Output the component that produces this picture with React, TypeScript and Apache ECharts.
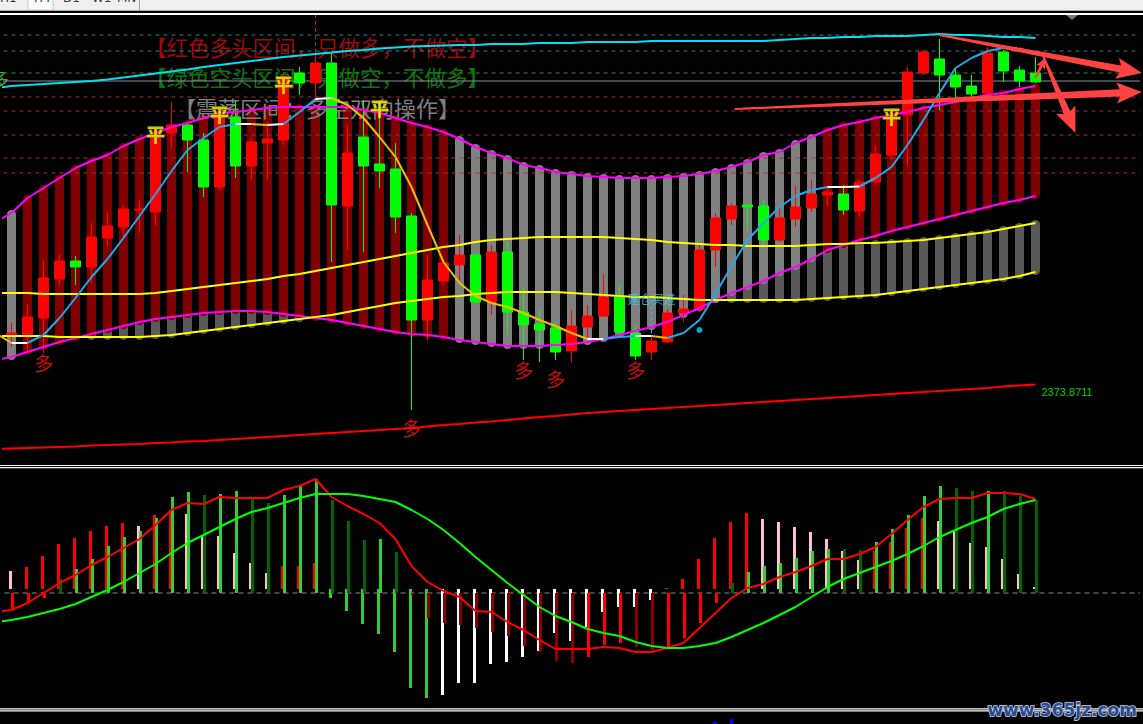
import React, { useEffect, useRef } from 'react';
import * as echarts from 'echarts';

// ---------- data (prices) ----------
// Every per-bar array starts with the bar cut by the left edge (bar number -1);
// the first fully drawn bar is bar number 0.
const categories = Array.from({ length: 71 }, (_, i) => 'K' + i);

const opens = [2381, 2393.5, 2393.5, 2402, 2421.5, 2430.5, 2427.5, 2442, 2447.5, 2456, 2455, 2494.5, 2498.5, 2491, 2467.5, 2502.5, 2478, 2489.5, 2491, 2524.5, 2519.5, 2529.5, 2458, 2492.5, 2479, 2476.5, 2453, 2401, 2420.5, 2428.5, 2433.5, 2410, 2435, 2405, 2399, 2397, 2385.5, 2397.5, 2403, 2412.5, 2394.5, 2385, 2390, 2404.5, 2406.5, 2436, 2451.5, 2458.5, 2458, 2441, 2451.5, 2457, 2463.5, 2464, 2455.5, 2470, 2483.5, 2503.5, 2524.5, 2531.5, 2523.5, 2518, 2514.5, 2535, 2526, 2524.5];
const closes = [2394.5, 2394.5, 2402.5, 2422, 2430.5, 2427.5, 2442.5, 2448, 2456.5, 2456.5, 2492, 2498.5, 2491, 2467.5, 2503.5, 2478, 2490, 2491.5, 2522.5, 2519.5, 2529.5, 2458.5, 2484.5, 2478, 2475.5, 2452.5, 2401, 2421, 2429.5, 2433.5, 2410, 2435, 2405, 2398.5, 2396, 2385, 2398, 2403, 2412.5, 2395, 2383, 2390.5, 2404.5, 2406.5, 2436, 2452, 2458, 2457.5, 2441, 2452, 2457.5, 2464, 2465, 2456, 2470, 2484, 2503.5, 2525, 2535, 2523.5, 2517.5, 2514, 2534.5, 2525.5, 2520.5, 2520];
const lows = [2380, 2387.5, 2384.5, 2384.5, 2418.5, 2418.5, 2419.5, 2438, 2442, 2444.5, 2448, 2487, 2475, 2462.5, 2466, 2472, 2471, 2471, 2488.5, 2513.5, 2511, 2430, 2436, 2435, 2467, 2444.5, 2356, 2391, 2418.5, 2421, 2408.5, 2403.5, 2393.5, 2381, 2380, 2381, 2380, 2392.5, 2402.5, 2393.5, 2381, 2381, 2389.5, 2400, 2405, 2427.5, 2448.5, 2445.5, 2438.5, 2440, 2447.5, 2455, 2458, 2453.5, 2452.5, 2468.5, 2481, 2478.5, 2523.5, 2506, 2512, 2512.5, 2513.5, 2520, 2517.5, 2519.5];
const highs = [2396, 2399.5, 2409, 2431, 2434, 2433, 2449.5, 2455, 2458.5, 2461, 2494.5, 2510, 2499, 2494.5, 2505, 2511, 2492, 2500, 2525, 2527.5, 2533.5, 2534.5, 2498.5, 2511, 2511, 2489.5, 2454.5, 2433.5, 2430, 2443.5, 2434.5, 2438.5, 2440, 2417.5, 2406, 2400, 2406, 2408.5, 2424, 2418.5, 2398.5, 2393.5, 2406.5, 2413.5, 2438.5, 2454.5, 2459.5, 2458.5, 2461, 2458, 2468, 2471, 2468, 2468.5, 2471, 2488, 2506, 2527.5, 2536, 2541.5, 2527, 2523.5, 2537.5, 2536, 2528, 2532.5];

// channel A (magenta) and channel B (yellow)
const bandAUpper = [2450, 2454.5, 2462, 2467, 2472, 2477, 2480.5, 2483.5, 2488, 2491.5, 2494.5, 2497.5, 2499.5, 2502, 2504.5, 2505, 2506, 2507, 2507.5, 2507.5, 2507.5, 2507.5, 2507.5, 2506, 2504.5, 2502, 2499.5, 2497.5, 2495, 2491.5, 2487.5, 2484.5, 2482, 2478.5, 2477, 2475, 2474, 2473, 2472.5, 2472, 2472, 2472, 2472.5, 2473, 2474, 2475.5, 2477.5, 2480, 2483.5, 2485, 2489.5, 2492.5, 2496, 2498.5, 2500, 2502, 2503.5, 2505, 2507, 2508.5, 2510, 2512, 2513.5, 2514.5, 2516.5, 2518];
const bandALower = [2381, 2382.5, 2385, 2387.5, 2390, 2392, 2394, 2396, 2398, 2400, 2401.5, 2402.5, 2403.5, 2404.5, 2405, 2405.5, 2405.5, 2405, 2404, 2403, 2402, 2401, 2399.5, 2398, 2396.5, 2395, 2394, 2393.5, 2392.5, 2391, 2390, 2389, 2388, 2388, 2388, 2388.5, 2389, 2390, 2391.5, 2393.5, 2395.5, 2397.5, 2400, 2403.5, 2407, 2411, 2414.5, 2417.5, 2420.5, 2424.5, 2427.5, 2431.5, 2436, 2438.5, 2441, 2443, 2445.5, 2447.5, 2449.5, 2451.5, 2453.5, 2455.5, 2457.5, 2459.5, 2461, 2463];
const bandBUpper = [2414.5, 2414.5, 2414.5, 2414, 2414, 2414, 2414, 2414, 2414, 2414, 2414.5, 2415.5, 2416.5, 2417.5, 2418.5, 2419.5, 2420.5, 2421.5, 2423, 2424, 2425.5, 2427, 2428.5, 2430, 2431.5, 2433, 2434.5, 2436, 2437.5, 2438.5, 2440, 2441, 2441.5, 2442, 2442.5, 2442.5, 2442.5, 2442.5, 2442.5, 2442, 2441.5, 2441, 2440, 2439.5, 2439, 2438.5, 2438.5, 2438, 2438, 2438, 2438, 2438.5, 2439, 2439, 2439.5, 2439.5, 2440, 2440.5, 2441, 2442, 2443, 2444, 2445, 2446.5, 2448, 2449.5];
const bandBLower = [2393, 2393, 2393, 2393, 2392.5, 2392.5, 2392.5, 2392.5, 2392.5, 2392.5, 2393, 2393.5, 2394.5, 2395.5, 2396.5, 2397.5, 2398.5, 2399.5, 2400.5, 2401.5, 2402.5, 2403.5, 2405, 2406.5, 2408, 2409.5, 2410.5, 2411.5, 2412.5, 2413, 2414, 2414.5, 2415, 2415, 2415, 2415, 2414.5, 2414, 2413.5, 2413, 2412.5, 2412.5, 2412, 2411.5, 2411, 2411, 2411, 2411, 2411, 2411, 2411, 2411.5, 2412, 2412.5, 2413, 2413.5, 2414.5, 2415.5, 2416.5, 2417.5, 2418.5, 2419.5, 2420.5, 2421.5, 2423, 2425];
// bar numbers where channel A is shown dark red (bull regime); others grey
const bullRanges = [[1, 27], [51, 64]];

// fast MA and its segment trend (u rising, w flat, d falling)
const fastMA = [2394.5, 2389.5, 2389.5, 2393.5, 2402, 2412, 2422.5, 2431.5, 2442, 2453, 2464, 2475.5, 2486, 2492, 2497.5, 2499, 2499, 2498.5, 2499, 2505, 2511.5, 2512, 2508.5, 2502, 2492.5, 2482.5, 2467.5, 2448.5, 2430, 2419.5, 2413, 2409.5, 2407.5, 2404.5, 2401, 2398, 2394.5, 2391.5, 2391.5, 2392.5, 2393, 2393, 2392, 2394.5, 2401, 2414, 2428, 2441, 2449.5, 2457.5, 2463, 2466, 2467.5, 2467.5, 2467.75, 2472, 2477.5, 2488.5, 2501, 2514.5, 2527, 2532, 2535.5, 2537, 2536.75, 2534];
const maTrend = 'd' + 'w' + 'uuuuuuuuuuuuu' + 'w' + 'd' + 'w' + 'uu' + 'w' + 'dddddddddddddddd' + 'w' + 'uu' + 'w' + 'd' + 'uuuuuuuuuu' + 'ww' + 'uuuuuuuuu' + 'w' + 'd';

const topCyanLine = [2517, 2518, 2518.5, 2519, 2519.5, 2520, 2520.5, 2521.25, 2522.25, 2523.25, 2524.25, 2525.25, 2526.25, 2527.5, 2528.5, 2529.5, 2530.5, 2531.5, 2532.5, 2533.25, 2534, 2534.75, 2535.5, 2536, 2536.75, 2537.25, 2537.75, 2538, 2538.25, 2538.5, 2538.5, 2539, 2539, 2539, 2539.5, 2539.5, 2539.5, 2540, 2540, 2540, 2540, 2540.5, 2540.5, 2540.5, 2540.5, 2540.5, 2540.5, 2540.5, 2540.5, 2541, 2541.5, 2542, 2542, 2542.5, 2542.5, 2543, 2543, 2543, 2543.5, 2544, 2543.5, 2543.5, 2543, 2542.5, 2542.5, 2542];
const slowRedMA = [2336.5, 2336.75, 2337, 2337.25, 2337.5, 2337.75, 2338.25, 2338.5, 2338.75, 2339, 2339.5, 2339.75, 2340.25, 2340.5, 2341, 2341.5, 2342, 2342.5, 2343, 2343.5, 2344, 2344.5, 2345, 2345.5, 2346, 2346.5, 2347, 2347.75, 2348.5, 2349, 2349.75, 2350.25, 2351, 2351.75, 2352.5, 2353, 2353.75, 2354.5, 2355, 2355.5, 2356, 2356.5, 2357, 2357.5, 2358, 2358.5, 2359, 2359.5, 2360, 2360.5, 2361, 2361.5, 2362, 2362.5, 2363, 2363.5, 2364, 2364.5, 2365, 2365.5, 2366, 2366.5, 2367, 2367.75, 2368.25, 2368.75];
const slowRedLabel = '2373.8711';

// horizontal levels
const levelPrices = [2543.5, 2535.5, 2524.5, 2520.5, 2512.5, 2505.5, 2493.5, 2482, 2474.5];
const levelKinds = ['teal', 'teal', 'green', 'gray', 'red', 'red', 'red', 'red', 'red'];

// signals (bar numbers)
const pingIdx = [9, 13, 17, 23, 55];
const pingPrice = [2494.5, 2504.5, 2519.5, 2507.5, 2503.5];
const duoIdx = [2, 25, 32, 34, 39];
const duoPrice = [2380, 2347.5, 2376.5, 2372, 2376.5];
const buyIdx = 40;
const buyPrice = 2412;
const buyLine = [2411, 2381];
const cursorIdx = 19;
const cursorLine = [2554, 2530];
const dotIdx = 43;
const dotPrice = 2396;

// hand drawn arrows (bar number, price)
const arrowFrom = [[58.0, 2543.5], [45.2, 2506.5], [64.5, 2532.5], [64.0, 2522]];
const arrowTo = [[70.65, 2524.5], [70.65, 2515], [66.5, 2494.5], [64.6, 2532]];

// lower panel
const hist1 = [1.2, 1.8, 2.2, 3.3, 4.5, 5.1, 5.8, 6.3, 6.6, 6.3, 7.4, 7.9, 7.5, 5.4, 5.3, 3.6, 2.6, 1.6, 2.3, 2.3, 2.6, -0.9, -2.2, -3.5, -4.5, -6.3, -9.9, -10.9, -10.6, -9.4, -9.4, -7.5, -7.3, -6.8, -6.2, -4.4, -5.2, -3.8, -2.3, -1.8, -1.8, -1.1, 0.1, 1.0, 3.0, 5.1, 6.7, 7.6, 7.0, 6.7, 6.2, 5.7, 5.0, 3.8, 2.9, 3.8, 4.7, 6.1, 7.1, 6.8, 5.9, 4.6, 4.2, 3.0, 1.5, 0.2];
const hist1Color = 'p' + 'p' + 'rrrrrrr' + 'p' + 'rr' + 'pppppp' + 'rrr' + 'ggggggg' + 'wwwwwwwwwwwwww' + 'rrrrrr' + 'ppppppp' + 'rrrr' + 'ppppppp';
const hist2 = [-2.0, -1.6, -1.0, -0.5, 1.4, 2.4, 3.4, 4.7, 5.6, 6.2, 7.5, 9.6, 10.1, 9.8, 9.9, 10.2, 9.4, 9.0, 9.8, 10.8, 11.4, 9.3, 7.2, 5.3, 5.4, 4.1, -0.2, -2.5, -3.0, -3.2, -3.5, -3.9, -4.3, -5.3, -5.9, -6.8, -7.0, -6.4, -5.2, -5.0, -5.4, -5.7, -5.4, -4.5, -3.0, -1.0, 1.0, 2.1, 2.7, 3.0, 3.5, 4.2, 4.4, 4.4, 4.3, 5.1, 6.4, 7.8, 9.7, 10.7, 10.5, 10.2, 10.2, 10.2, 9.7, 9.3];
const hist2Color = 'R' + 'RRR' + 'D' + 'GGGGGGGG' + 'D' + 'GG' + 'DD' + 'GGG' + 'DDD' + 'G' + 'D' + 'KKKKKKKKKKK' + 'RRR' + 'KK' + 'RRRR' + 'D' + 'GGGGGG' + 'DD' + 'GGGGG' + 'DD' + 'G' + 'DDD';
const difLine = [-1.9, -1.7, -1.0, 0.0, 1.0, 1.8, 2.8, 3.6, 4.5, 5.4, 6.8, 8.3, 9.0, 8.9, 9.6, 9.5, 9.5, 9.5, 10.3, 10.7, 11.4, 9.6, 8.7, 7.9, 7.0, 5.4, 2.7, 1.1, 0.2, -0.4, -1.8, -1.9, -2.9, -3.7, -4.7, -5.6, -5.6, -5.6, -5.4, -5.5, -5.9, -5.9, -5.5, -5.0, -3.5, -2.0, -0.5, 0.5, 0.9, 1.6, 2.1, 2.7, 3.4, 3.4, 3.9, 4.6, 5.9, 7.3, 8.6, 9.4, 9.5, 9.5, 10.0, 10.0, 9.9, 9.4];
const deaLine = [-2.9, -2.7, -2.4, -2.0, -1.6, -1.1, -0.4, 0.3, 1.1, 2.0, 2.9, 4.0, 5.0, 5.8, 6.6, 7.4, 8.1, 8.5, 9.0, 9.5, 9.9, 9.9, 9.9, 9.7, 9.4, 9.1, 8.3, 7.4, 6.3, 5.0, 3.6, 2.3, 1.0, -0.2, -1.4, -2.3, -2.9, -3.6, -4.0, -4.3, -4.9, -5.3, -5.5, -5.5, -5.3, -5.0, -4.4, -3.7, -3.0, -2.2, -1.4, -0.4, 0.6, 1.4, 2.0, 2.6, 3.2, 3.9, 4.7, 5.6, 6.3, 7.0, 7.6, 8.4, 8.9, 9.3];

// ---------- styles ----------
const CJK = '"Noto Sans CJK SC", "Noto Sans", sans-serif';
const LEVEL_STYLE: Record<string, any> = {
  teal: { color: '#188c8c', type: [4, 4], width: 1 },
  green: { color: '#2d8f2d', type: [4, 4], width: 1 },
  gray: { color: '#8a929c', type: 'solid', width: 1 },
  red: { color: '#a03232', type: [4, 4], width: 1 },
};
const H1_COLORS: Record<string, string> = { r: '#ff0000', p: '#ffc0cb', g: '#32cd32', w: '#ffffff' };
const H2_COLORS: Record<string, string> = { R: '#ff0000', K: '#8b0000', G: '#32cd32', D: '#006400' };
const TREND_COLORS = ['#1eaaf0', '#ffffff', '#f0c000'];
const X_FROM = -1; // bar number left of the canvas edge
const X_TO = 71;   // bar number right of the canvas edge

const inBull = (i: number) => bullRanges.some(([a, b]) => i >= a && i <= b);
const xy = (arr: number[]) => arr.map((v, k) => [k - 1, v]);
const shown = (arr: any[]) => arr.slice(1);

function buildOption() {
  const candleData = shown(opens).map((o: number, i: number) => [o, closes[i + 1], lows[i + 1], highs[i + 1]]);
  const bandBData = shown(bandBLower).map((lo: number, i: number) => [i, lo, bandBUpper[i + 1]]);
  const bandAData = shown(bandALower).map((lo: number, i: number) => [i, lo, bandAUpper[i + 1], inBull(i) ? 1 : 0]);
  const segData = maTrend.split('').map((t, k) => [k - 1, fastMA[k], fastMA[k + 1], t === 'u' ? 0 : t === 'w' ? 1 : 2]);
  const arrowData = arrowFrom.map((f, k) => [f[0], f[1], arrowTo[k][0], arrowTo[k][1]]);

  const bandRender = (fillFn: (bull: number) => string) => (params: any, api: any) => {
    const i = api.value(0);
    const top = api.coord([i, api.value(2)]);
    const bot = api.coord([i, api.value(1)]);
    const w = 9;
    return {
      type: 'rect',
      shape: { x: top[0] - w / 2, y: top[1] - 3, width: w, height: bot[1] - top[1] + 6, r: 4.5 },
      style: { fill: fillFn(api.value(3)) },
    };
  };

  const xCat = (gridIndex: number) => ({
    type: 'category', gridIndex, data: categories, boundaryGap: true, show: false,
    axisLine: { show: false }, axisTick: { show: false }, axisLabel: { show: false }, splitLine: { show: false },
  });
  const xNum = (gridIndex: number) => ({ type: 'value', gridIndex, min: -0.5, max: 70.5, show: false, splitLine: { show: false } });
  const yVal = (gridIndex: number, min: number, max: number) => ({
    type: 'value', gridIndex, min, max, show: false, scale: true, splitLine: { show: false },
  });
  const lineOn = (name: string, arr: number[], color: string, xAxisIndex: number, yAxisIndex: number, z: number, extra: any = {}) => ({
    type: 'line', name, data: xy(arr), xAxisIndex, yAxisIndex, z, clip: false, showSymbol: false, silent: true,
    lineStyle: { color, width: 2 }, ...extra,
  });

  const graphic: any[] = [
    // toolbar strip
    { type: 'rect', z: 100, shape: { x: 0, y: 0, width: 1143, height: 11 }, style: { fill: '#f0f0f0' } },
    { type: 'rect', z: 100, shape: { x: 28, y: -1, width: 25, height: 11 }, style: { fill: '#fbfbfb', stroke: '#c8c8c8', lineWidth: 1 } },
    { type: 'line', z: 100, shape: { x1: 0, y1: 10.5, x2: 1143, y2: 10.5 }, style: { stroke: '#a8a8a8', lineWidth: 1 } },
    { type: 'line', z: 100, shape: { x1: 139.5, y1: 0, x2: 139.5, y2: 10 }, style: { stroke: '#a0a0a0', lineWidth: 1 } },
    ...[['H1', 0], ['H4', 34], ['D1', 63], ['W1', 92], ['MN', 117]].map(([t, x]) => ({
      type: 'text', z: 101, style: { text: t, x, y: 4, fill: '#404040', font: '12px "DejaVu Sans", sans-serif', verticalAlign: 'bottom' },
    })),
    { type: 'line', z: 100, shape: { x1: 0, y1: 14, x2: 1143, y2: 14 }, style: { stroke: '#ffffff', lineWidth: 2 } },
    { type: 'polygon', z: 100, shape: { points: [[1066, 15], [1078, 15], [1072, 20]] }, style: { fill: '#6e7b8b' } },
    // panel separators
    { type: 'line', z: 100, shape: { x1: 0, y1: 465.5, x2: 1143, y2: 465.5 }, style: { stroke: '#ffffff', lineWidth: 1.2 } },
    { type: 'line', z: 100, shape: { x1: 0, y1: 467.7, x2: 1143, y2: 467.7 }, style: { stroke: '#ffffff', lineWidth: 1.2 } },
    { type: 'line', z: 100, shape: { x1: 0, y1: 708.8, x2: 1143, y2: 708.8 }, style: { stroke: '#ffffff', lineWidth: 1.2 } },
    { type: 'line', z: 100, shape: { x1: 0, y1: 710.9, x2: 1143, y2: 710.9 }, style: { stroke: '#ffffff', lineWidth: 1.2 } },
    { type: 'rect', z: 100, shape: { x: 730, y: 719, width: 3, height: 5 }, style: { fill: '#0000ff' } },
    { type: 'rect', z: 100, shape: { x: 713, y: 722, width: 4, height: 2 }, style: { fill: '#0000ff' } },
    // notes
    { type: 'text', z: 4, style: { text: '【红色多头区间，只做多，不做空】', x: 145, y: 46, fill: '#9c0a0a', font: `21.5px ${CJK}`, verticalAlign: 'middle' } },
    { type: 'text', z: 4, style: { text: '【绿色空头区间，只做空，不做多】', x: 145, y: 76, fill: '#0c740c', font: `21.5px ${CJK}`, verticalAlign: 'middle' } },
    { type: 'text', z: 4, style: { text: '【震荡区间：多空双向操作】', x: 174, y: 107, fill: '#808080', font: `22px ${CJK}`, verticalAlign: 'middle' } },
    { type: 'text', z: 4, style: { text: '多', x: -10, y: 78, fill: '#3aa83a', font: `19px ${CJK}`, verticalAlign: 'middle' } },
    // watermark
    { type: 'text', z: 100, style: { text: 'www.365jz.com', x: 1137, y: 710, fill: '#2a4c8c', stroke: '#c9d5ea', lineWidth: 1.5, font: 'bold 17px "DejaVu Sans", sans-serif', align: 'right', verticalAlign: 'middle' } },
  ];

  return {
    animation: false,
    backgroundColor: '#000000',
    grid: [
      { left: 3.5, top: 14, width: 1136, height: 448 },
      { left: 3.5, top: 467, width: 1136, height: 241 },
    ],
    xAxis: [xCat(0), xNum(0), xCat(1), xNum(1)],
    yAxis: [yVal(0, 2330, 2554), yVal(1, -11.5, 12.6), yVal(1, -11.9, 12.2)],
    graphic,
    series: [
      // channel B bars (dark grey)
      {
        type: 'custom', name: 'bandB', xAxisIndex: 0, yAxisIndex: 0, z: 2, silent: true,
        encode: { x: 0, y: [1, 2] }, data: bandBData, renderItem: bandRender(() => '#595959'),
      },
      // channel A bars (dark red / grey)
      {
        type: 'custom', name: 'bandA', xAxisIndex: 0, yAxisIndex: 0, z: 3, silent: true,
        encode: { x: 0, y: [1, 2] }, data: bandAData, renderItem: bandRender((b) => (b ? '#800000' : '#808080')),
      },
      // level lines across the whole width
      ...levelPrices.map((p, k) => ({
        type: 'line', name: 'level' + k, xAxisIndex: 1, yAxisIndex: 0, z: 4, clip: false, showSymbol: false, silent: true,
        data: [[X_FROM, p], [X_TO, p]], lineStyle: LEVEL_STYLE[levelKinds[k]],
      })),
      {
        type: 'candlestick', name: 'K', xAxisIndex: 0, yAxisIndex: 0, z: 5, data: candleData, barWidth: 11,
        itemStyle: { color: '#ff0000', color0: '#00ff00', borderColor: '#ff0000', borderColor0: '#00ff00', borderWidth: 1 },
        markLine: {
          silent: true, symbol: ['none', 'none'], label: { show: false },
          data: [
            [
              { coord: [cursorIdx, cursorLine[0]], lineStyle: { color: '#c82020', type: [4, 3], width: 1 } },
              { coord: [cursorIdx, cursorLine[1]] },
            ],
            [
              { coord: [buyIdx, buyLine[0]], lineStyle: { color: '#20c8f0', type: [3, 3], width: 1 } },
              { coord: [buyIdx, buyLine[1]] },
            ],
          ],
        },
      },
      lineOn('bandAUpper', bandAUpper, '#ff00ff', 1, 0, 6),
      lineOn('bandALower', bandALower, '#ff00ff', 1, 0, 6),
      lineOn('bandBUpper', bandBUpper, '#ffff00', 1, 0, 6),
      lineOn('bandBLower', bandBLower, '#ffff00', 1, 0, 6),
      lineOn('topCyan', topCyanLine, '#00e0f0', 1, 0, 6),
      lineOn('slowRed', slowRedMA, '#ff0000', 1, 0, 6, {
        endLabel: { show: true, formatter: slowRedLabel, color: '#00c800', fontSize: 11, fontFamily: '"Liberation Sans", sans-serif', distance: 6, offset: [0, 7] },
      }),
      // fast MA colored by direction
      {
        type: 'custom', name: 'fastMA', xAxisIndex: 1, yAxisIndex: 0, z: 7, silent: true, clip: false,
        encode: { x: 0, y: [1, 2] }, data: segData,
        renderItem: (params: any, api: any) => {
          const i = api.value(0);
          const a = api.coord([i, api.value(1)]);
          const b = api.coord([i + 1, api.value(2)]);
          return { type: 'line', shape: { x1: a[0], y1: a[1], x2: b[0], y2: b[1] }, style: { stroke: TREND_COLORS[api.value(3)], lineWidth: 2 } };
        },
      },
      // signals
      {
        type: 'scatter', name: 'ping', xAxisIndex: 1, yAxisIndex: 0, z: 8, symbolSize: 1, itemStyle: { color: 'rgba(0,0,0,0)' },
        data: pingIdx.map((k, j) => [k, pingPrice[j]]),
        label: { show: true, position: 'inside', formatter: '平', color: '#ffff00', fontSize: 19, fontWeight: 'bold', fontFamily: CJK, textBorderColor: '#7a6400', textBorderWidth: 1 },
      },
      {
        type: 'scatter', name: 'duo', xAxisIndex: 1, yAxisIndex: 0, z: 8, symbolSize: 1, itemStyle: { color: 'rgba(0,0,0,0)' },
        data: duoIdx.map((k, j) => [k, duoPrice[j]]),
        label: { show: true, position: 'inside', formatter: '多', color: '#ff1010', fontSize: 19, fontFamily: CJK },
      },
      {
        type: 'scatter', name: 'buy', xAxisIndex: 1, yAxisIndex: 0, z: 8, symbolSize: 1, itemStyle: { color: 'rgba(0,0,0,0)' },
        data: [[buyIdx, buyPrice]],
        label: { show: true, position: 'inside', formatter: '建仓买进', color: '#30d0f0', fontSize: 12, fontFamily: CJK },
      },
      {
        type: 'scatter', name: 'dot', xAxisIndex: 1, yAxisIndex: 0, z: 8, symbolSize: 6,
        itemStyle: { color: '#00d8ff' }, data: [[dotIdx, dotPrice]],
      },
      // arrows
      {
        type: 'custom', name: 'arrows', xAxisIndex: 1, yAxisIndex: 0, z: 9, silent: true, clip: false,
        encode: { x: [0, 2], y: [1, 3] }, data: arrowData,
        renderItem: (params: any, api: any) => {
          const a = api.coord([api.value(0), api.value(1)]);
          const b = api.coord([api.value(2), api.value(3)]);
          const dx = b[0] - a[0], dy = b[1] - a[1];
          const len = Math.hypot(dx, dy);
          const ux = dx / len, uy = dy / len, nx = -uy, ny = ux;
          const small = len < 40;
          const headLen = small ? 9 : 22, headW = small ? 5 : 10.5, w0 = 1, w1 = small ? 1.6 : 3.6;
          const hx = b[0] - ux * headLen, hy = b[1] - uy * headLen;
          const bx = b[0] - ux * headLen * 1.15, by = b[1] - uy * headLen * 1.15;
          const pts = [
            [a[0] + nx * w0, a[1] + ny * w0],
            [hx + nx * w1, hy + ny * w1],
            [bx + nx * headW, by + ny * headW],
            [b[0], b[1]],
            [bx - nx * headW, by - ny * headW],
            [hx - nx * w1, hy - ny * w1],
            [a[0] - nx * w0, a[1] - ny * w0],
          ];
          return { type: 'polygon', shape: { points: pts }, style: { fill: '#ff4242' } };
        },
      },
      // lower panel
      {
        type: 'line', name: 'zero', xAxisIndex: 3, yAxisIndex: 1, z: 2, clip: false, showSymbol: false, silent: true,
        data: [[X_FROM, 0], [X_TO, 0]], lineStyle: { color: '#8c8c8c', type: [5, 4], width: 1 },
      },
      {
        type: 'bar', name: 'hist1', xAxisIndex: 2, yAxisIndex: 2, z: 3, barWidth: 3, barGap: '-33%',
        data: shown(hist1).map((v: number, i: number) => ({ value: v, itemStyle: { color: H1_COLORS[hist1Color[i + 1]] } })),
      },
      {
        type: 'bar', name: 'hist2', xAxisIndex: 2, yAxisIndex: 1, z: 3, barWidth: 3, barGap: '-33%',
        data: shown(hist2).map((v: number, i: number) => ({ value: v, itemStyle: { color: H2_COLORS[hist2Color[i + 1]] } })),
      },
      lineOn('dif', difLine, '#ff0000', 3, 1, 5),
      lineOn('dea', deaLine, '#00ff00', 3, 1, 5),
    ],
  };
}

export default function App() {
  const ref = useRef<HTMLDivElement>(null);
  useEffect(() => {
    document.body.style.margin = '0';
    const chart = echarts.init(ref.current as HTMLDivElement, undefined, { renderer: 'svg' });
    chart.setOption(buildOption() as any);
    return () => chart.dispose();
  }, []);
  return <div ref={ref} style={{ width: 1143, height: 724, background: '#000' }} />;
}
